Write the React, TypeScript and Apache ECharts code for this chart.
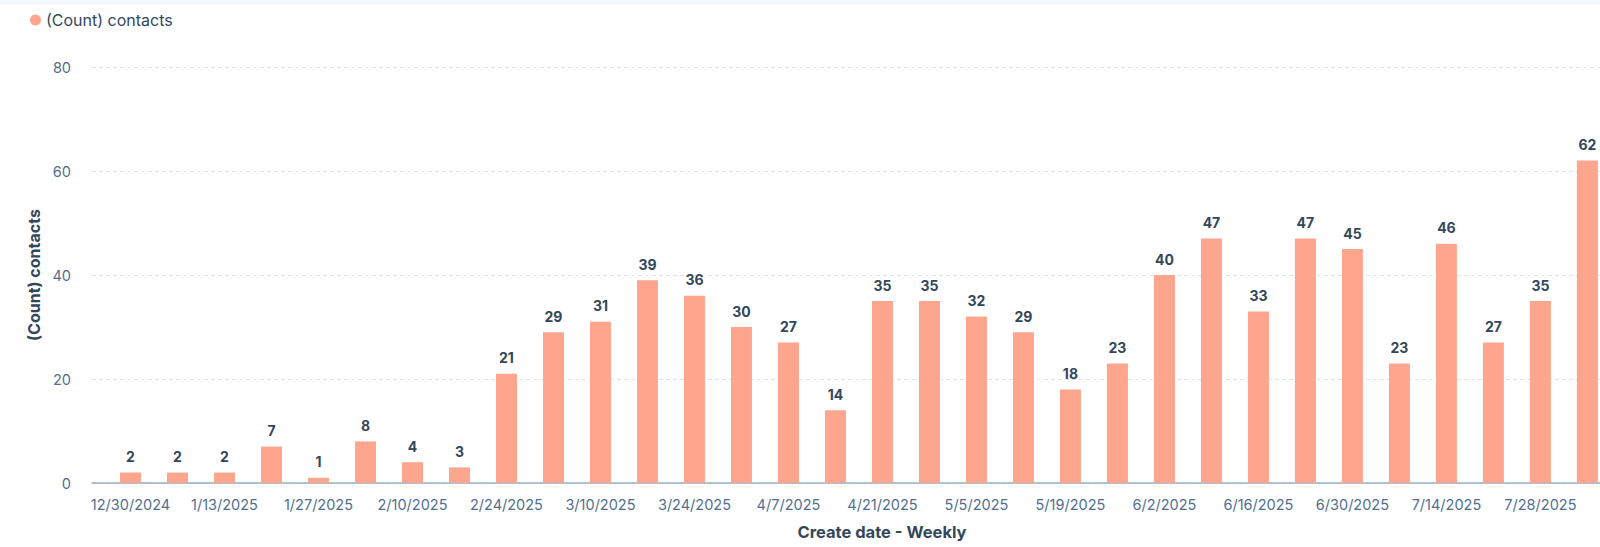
import { useEffect, useRef } from 'react'
import * as echarts from 'echarts'

// Weekly create dates (category index = position on the x axis)
const WEEKS = [
  '12/30/2024', '1/6/2025', '1/13/2025', '1/20/2025', '1/27/2025', '2/3/2025',
  '2/10/2025', '2/17/2025', '2/24/2025', '3/3/2025', '3/10/2025', '3/17/2025',
  '3/24/2025', '3/31/2025', '4/7/2025', '4/14/2025', '4/21/2025', '4/28/2025',
  '5/5/2025', '5/12/2025', '5/19/2025', '5/26/2025', '6/2/2025', '6/9/2025',
  '6/16/2025', '6/23/2025', '6/30/2025', '7/7/2025', '7/14/2025', '7/21/2025',
  '7/28/2025', '8/4/2025', '8/11/2025',
]
const CONTACTS = [
  2, 2, 2, 7, 1, 8, 4, 3, 21, 29, 31, 39, 36, 30, 27, 14, 35, 35, 32, 29, 18, 23,
  40, 47, 33, 47, 45, 23, 46, 27, 35, 62,
]
const LABELED_WEEKS = WEEKS.map((_, i) => i).filter((i) => i % 2 === 0)

const SERIES_NAME = '(Count) contacts'
const BAR = '#fea58e'
const TEXT = '#33475b'
const MUTED = '#516f90'
const FONT = 'Inter, "Noto Sans", sans-serif'

export default function App() {
  const ref = useRef<HTMLDivElement>(null)

  useEffect(() => {
    const el = ref.current
    if (!el) return
    const chart = echarts.init(el, undefined, { renderer: 'svg' })
    chart.setOption({
      animation: false,
      textStyle: { fontFamily: FONT },
      legend: {
        left: 25,
        top: 7,
        icon: 'circle',
        itemWidth: 11,
        itemHeight: 11,
        itemGap: 6,
        textStyle: { color: TEXT, fontSize: 16, fontFamily: FONT },
        data: [SERIES_NAME],
      },
      grid: { left: 92, right: 28, top: 67, bottom: 64, containLabel: false },
      xAxis: {
        type: 'value',
        min: -0.819,
        max: 32.8,
        name: 'Create date - Weekly',
        nameLocation: 'middle',
        nameGap: 40,
        nameTextStyle: { color: TEXT, fontSize: 16.5, fontWeight: 'bold', fontFamily: FONT },
        splitLine: { show: false },
        axisTick: { show: false },
        axisLine: { show: true, onZero: false, lineStyle: { color: '#99afc4', width: 1.5 } },
        axisLabel: {
          customValues: LABELED_WEEKS,
          color: MUTED,
          fontSize: 14.5,
          margin: 14,
          showMinLabel: true,
          showMaxLabel: true,
          hideOverlap: false,
          formatter: (v: number) => WEEKS[Math.round(v)] ?? '',
        },
      },
      yAxis: {
        type: 'value',
        min: 0,
        max: 80,
        interval: 20,
        name: SERIES_NAME,
        nameLocation: 'middle',
        nameGap: 49,
        nameTextStyle: { color: TEXT, fontSize: 16, fontWeight: 'bold', fontFamily: FONT },
        axisLine: { show: false },
        axisTick: { show: false },
        axisLabel: { color: MUTED, fontSize: 14.5, margin: 21 },
        splitLine: { lineStyle: { color: '#dfe3eb', type: [4, 3] } },
      },
      series: [
        {
          name: SERIES_NAME,
          type: 'bar',
          barWidth: 21,
          itemStyle: { color: BAR },
          label: {
            show: true,
            position: 'top',
            distance: 9,
            color: TEXT,
            fontSize: 14,
            fontWeight: 'bold',
            fontFamily: FONT,
          },
          data: CONTACTS.map((v, i) => [i, v]),
        },
      ],
    })
    return () => chart.dispose()
  }, [])

  return (
    <div style={{ position: 'fixed', left: 0, top: 0, width: 1600, height: 547, overflow: 'hidden', background: '#fff' }}>
      <div style={{ position: 'absolute', left: 0, top: 0, width: 1600, height: 5, background: '#f5f8fa' }} />
      <div ref={ref} style={{ position: 'absolute', left: 0, top: 0, width: 1700, height: 547 }} />
    </div>
  )
}
